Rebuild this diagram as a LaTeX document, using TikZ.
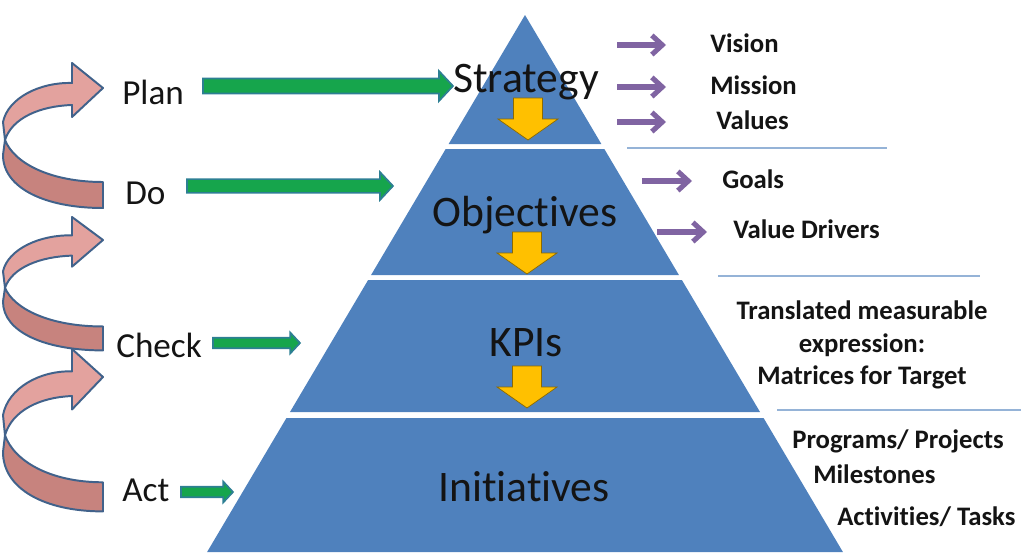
\documentclass[tikz,border=0pt]{standalone}
\usepackage{fontspec}
\setmainfont{Carlito}[Ligatures={NoCommon}]
\usetikzlibrary{arrows.meta, positioning, calc}
\definecolor{tierblue}{HTML}{4F81BD}
\definecolor{inkdark}{HTML}{141414}
\definecolor{blockgreen}{HTML}{16A54C}
\definecolor{blockedge}{HTML}{2D7F93}
\definecolor{pointpurple}{HTML}{8064A2}
\definecolor{blockyellow}{HTML}{FFC000}
\definecolor{ribbonlight}{HTML}{E3A29E}
\definecolor{ribbondark}{HTML}{C7837E}
\definecolor{ribbonedge}{HTML}{41628B}
\definecolor{ruleblue}{HTML}{95B3D7}

\tikzset{
  tier/.style={fill=tierblue},
  tierlabel/.style={inner sep=0, text=inkdark, font=\fontsize{31}{37}\selectfont},
  cyclelabel/.style={inner sep=0, anchor=west, text=inkdark, font=\fontsize{25}{30}\selectfont},
  notelabel/.style={inner sep=0, text=inkdark, font=\fontsize{19}{23}\selectfont\bfseries},
  greenblock/.style={fill=blockgreen, draw=blockedge, line width=1.2pt, line join=miter},
  yellowblock/.style={fill=blockyellow, draw=blockyellow!55!black, line width=0.5pt},
  purplearrow/.style={draw=pointpurple, line width=3.6pt, -{Straight Barb[length=2.6mm, width=4.8mm]}},
  rule/.style={draw=ruleblue, line width=0.9pt},
  ribbonup/.style={fill=ribbonlight, draw=ribbonedge, line width=1.4pt, line join=round},
  ribbonlow/.style={fill=ribbondark, draw=ribbonedge, line width=1.4pt, line join=round},
  pics/cyclearrow/.style={code={
    % back half of the twisted ribbon
    \filldraw[ribbonlow] (5,52) .. controls (14,75) and (50,94) .. (103,94)
      -- (103,120) .. controls (45,120) and (3,100) .. (3,67) -- cycle;
    % front half with the head
    \filldraw[ribbonup] (3,34) .. controls (8,10) and (40,-6) .. (72,-5)
      -- (72,-25) -- (103,0) -- (72,29) -- (72,17)
      .. controls (40,18) and (12,30) .. (5,52) -- cycle;
  }},
  pics/downblock/.style={code={
    \filldraw[yellowblock] (-14.5,-42) -- (14.5,-42) -- (14.5,-21) -- (30,-21)
      -- (0,0) -- (-30,-21) -- (-14.5,-21) -- cycle;
  }}
}

% block arrow between two named points, height taken from the first
\newcommand{\blockarrow}[3]{%
  \draw[greenblock] let \p1=(#1), \p2=(#2) in
    (\x1,{\y1+5.3pt*#3}) -- ({\x2-10pt*#3},{\y1+5.3pt*#3})
    -- ({\x2-10pt*#3},{\y1+10.7pt*#3}) -- (\x2,\y1)
    -- ({\x2-10pt*#3},{\y1-10.7pt*#3}) -- ({\x2-10pt*#3},{\y1-5.3pt*#3})
    -- (\x1,{\y1-5.3pt*#3}) -- cycle;}

\begin{document}
\begin{tikzpicture}[x=0.25mm, y=-0.25mm]
  \useasboundingbox (0,0) rectangle (1024,555);

  % PDCA ribbons
  \pic at (0,88) {cyclearrow};
  \pic[yscale=0.92] at (0,240) {cyclearrow};
  \pic[yscale=1.12] at (0,377) {cyclearrow};

  % pyramid tiers
  \foreach \top/\bot in {15/144, 149/275, 280/412, 418/552}
    \fill[tier] ({525-0.592*(\top-15)},\top) -- ({525+0.592*(\top-15)},\top)
      -- ({525+0.592*(\bot-15)},\bot) -- ({525-0.592*(\bot-15)},\bot) -- cycle;

  \pic at (528,140) {downblock};
  \pic at (527,274) {downblock};
  \pic at (527,408) {downblock};

  \node[tierlabel] (strategy) at (526,82) {Strategy};
  \node[tierlabel] (objectives) at (525,215) {Objectives};
  \node[tierlabel] (kpis) at (526,343) {KPIs};
  \node[tierlabel] (initiatives) at (524,487) {Initiatives};

  % cycle steps
  \node[cyclelabel] (plan) at (122,92) {Plan};
  \node[cyclelabel] (do) at (125,193) {Do};
  \node[cyclelabel] (check) at (116,345) {Check};
  \node[cyclelabel] (act) at (122,490) {Act};

  \coordinate (plan-out) at (203,86);
  \coordinate (do-out) at (187,186);
  \coordinate (do-in) at (393,186);
  \coordinate (check-out) at (213,343);
  \coordinate (check-in) at (300,343);
  \coordinate (act-out) at (181,492);
  \coordinate (act-in) at (233,492);
  \blockarrow{plan-out}{strategy.west}{1}
  \blockarrow{do-out}{do-in}{0.92}
  \blockarrow{check-out}{check-in}{0.7}
  \blockarrow{act-out}{act-in}{0.7}

  % notes on the right
  \node[notelabel, anchor=west] (vision) at (710,43) {Vision};
  \node[notelabel, anchor=west] (mission) at (710,85) {Mission};
  \node[notelabel, anchor=west] (values) at (716,120) {Values};
  \node[notelabel, anchor=west] (goals) at (722,179) {Goals};
  \node[notelabel, anchor=west] (drivers) at (733,229) {Value Drivers};
  \node[notelabel, align=center] (measure) at (862,345)
    {Translated measurable\\expression:\\Matrices for Target};
  \node[notelabel, anchor=west] (programs) at (792,441) {Programs/ Projects};
  \node[notelabel, anchor=west] (milestones) at (813,474) {Milestones};
  \node[notelabel, anchor=west] (activities) at (837,517) {Activities/ Tasks};

  \foreach \lab/\sx/\sy/\gap in {vision/617/45/11mm, mission/617/87/11mm,
      values/617/122/12.5mm, goals/642/181/7.5mm, drivers/657/232/6.5mm}{
    \coordinate (\lab-tail) at (\sx,\sy);
    \draw[purplearrow, shorten >=\gap] (\lab-tail) -- (\lab-tail -| \lab.west);
  }

  \draw[rule] (627,148) -- (887,148);
  \draw[rule] (718,276) -- (980,276);
  \draw[rule] (777,410) -- (1021,410);
\end{tikzpicture}
\end{document}
